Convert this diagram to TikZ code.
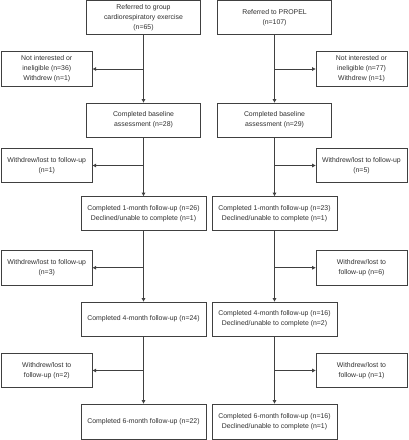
\documentclass[tikz,border=0pt]{standalone}
\usepackage{fontspec}
\setmainfont{Liberation Sans}
\usetikzlibrary{arrows.meta}
\definecolor{ln}{HTML}{404040}
\definecolor{tx}{HTML}{303030}
\begin{document}
\begin{tikzpicture}[x=1pt,y=-1pt,
  box/.style={draw=ln,line width=0.8pt,fill=white,align=center,text=tx,inner sep=1pt,
    font=\fontsize{6.9}{10}\selectfont},
  mainbox/.style={box,minimum width=114pt,minimum height=34pt},
  fbox/.style={box,minimum width=125pt,minimum height=34pt},
  sidebox/.style={box,minimum width=91pt,minimum height=34.5pt},
  conn/.style={draw=ln,line width=0.8pt},
  arr/.style={conn,-{Triangle[length=3.5pt,width=3.5pt]}}]
\useasboundingbox (0,0) rectangle (409,440);
\fill[white] (0,0) rectangle (409,440);
% left column
\node[mainbox,minimum height=33.5pt] (L0) at (143.5,17.25) {Referred to group\\cardiorespiratory exercise\\(n=65)};
\node[sidebox] (LS1) at (46.75,69) {Not interested or\\ineligible (n=36)\\Withdrew (n=1)};
\node[mainbox] (L1) at (143.5,120) {Completed baseline\\assessment (n=28)};
\node[sidebox] (LS2) at (46.75,165.5) {Withdrew/lost to follow-up\\(n=1)};
\node[fbox] (L2) at (143.5,213.5) {Completed 1-month follow-up (n=26)\\Declined/unable to complete (n=1)};
\node[sidebox] (LS3) at (46.75,267.75) {Withdrew/lost to follow-up\\(n=3)};
\node[fbox] (L3) at (143.5,319) {Completed 4-month follow-up (n=24)};
\node[sidebox] (LS4) at (46.75,370.5) {Withdrew/lost to\\follow-up (n=2)};
\node[fbox,minimum height=35pt] (L4) at (143.5,421.5) {Completed 6-month follow-up (n=22)};
% right column
\node[mainbox,minimum height=33.5pt] (R0) at (274.5,17.25) {Referred to PROPEL\\(n=107)};
\node[sidebox] (RS1) at (361.5,69) {Not interested or\\ineligible (n=77)\\Withdrew (n=1)};
\node[mainbox] (R1) at (274.5,120) {Completed baseline\\assessment (n=29)};
\node[sidebox] (RS2) at (361.5,165.5) {Withdrew/lost to follow-up\\(n=5)};
\node[fbox] (R2) at (274.5,213.5) {Completed 1-month follow-up (n=23)\\Declined/unable to complete (n=1)};
\node[sidebox] (RS3) at (361.5,267.75) {Withdrew/lost to\\follow-up (n=6)};
\node[fbox] (R3) at (274.5,319) {Completed 4-month follow-up (n=16)\\Declined/unable to complete (n=2)};
\node[sidebox] (RS4) at (361.5,370.5) {Withdrew/lost to\\follow-up (n=1)};
\node[fbox,minimum height=35pt] (R4) at (274.5,421.5) {Completed 6-month follow-up (n=16)\\Declined/unable to complete (n=1)};
% connectors
\foreach \c in {L,R}{
  \draw[arr] (\c0.south) -- (\c1.north);
  \draw[arr] (\c1.south) -- (\c2.north);
  \draw[arr] (\c2.south) -- (\c3.north);
  \draw[arr] (\c3.south) -- (\c4.north);
}
\draw[arr] (L0.south |- LS1.east) -- (LS1.east);
\draw[arr] (L1.south |- LS2.east) -- (LS2.east);
\draw[arr] (L2.south |- LS3.east) -- (LS3.east);
\draw[arr] (L3.south |- LS4.east) -- (LS4.east);
\draw[arr] (R0.south |- RS1.west) -- (RS1.west);
\draw[arr] (R1.south |- RS2.west) -- (RS2.west);
\draw[arr] (R2.south |- RS3.west) -- (RS3.west);
\draw[arr] (R3.south |- RS4.west) -- (RS4.west);
\end{tikzpicture}
\end{document}
